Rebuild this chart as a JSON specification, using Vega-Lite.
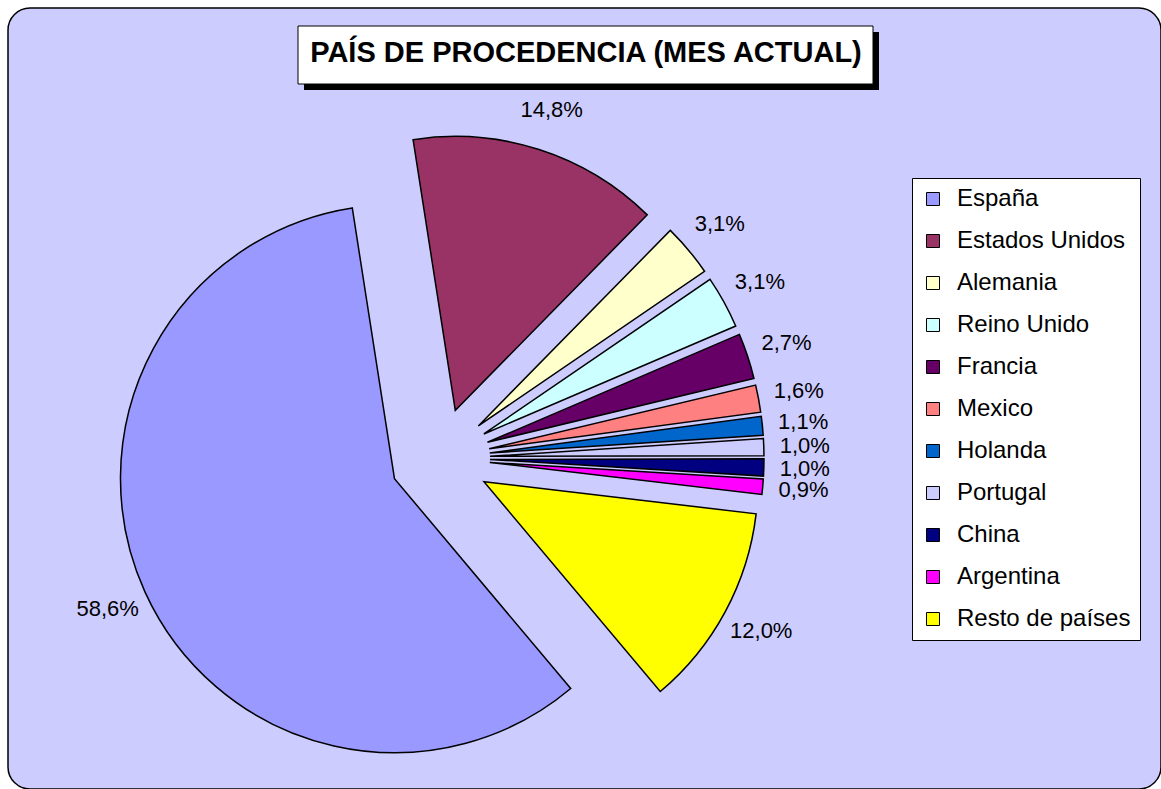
{
  "$schema": "https://vega.github.io/schema/vega-lite/v6.json",
  "width": 1153,
  "height": 781,
  "autosize": "none",
  "padding": {"left": 8, "top": 8, "right": 0, "bottom": 0},
  "background": "white",
  "config": {
    "view": {"fill": "#CCCCFF", "stroke": "black", "strokeWidth": 1.5, "cornerRadius": 22},
    "font": "Liberation Sans"
  },
  "layer": [
    {
      "data": {"values": [{}]},
      "mark": {"type": "rect", "fill": "black"},
      "encoding": {
        "x": {"datum": -2.72, "type": "quantitative", "scale": {"domain": [-8.64, 14.42], "nice": false, "zero": false}, "axis": null},
        "x2": {"datum": 8.78},
        "y": {"datum": -8.52, "type": "quantitative", "scale": {"domain": [-9.0, 6.62], "nice": false, "zero": false, "reverse": true}, "axis": null},
        "y2": {"datum": -7.36}
      }
    },
    {
      "data": {"values": [{}]},
      "mark": {"type": "rect", "fill": "white", "stroke": "black", "strokeWidth": 1},
      "encoding": {
        "x": {"datum": -2.84, "type": "quantitative", "axis": null},
        "x2": {"datum": 8.66},
        "y": {"datum": -8.64, "type": "quantitative", "axis": null},
        "y2": {"datum": -7.48}
      }
    },
    {
      "data": {"values": [{}]},
      "mark": {"type": "text", "font": "Liberation Sans", "fontWeight": "bold", "fontSize": 29, "align": "center", "baseline": "alphabetic", "color": "black"},
      "encoding": {
        "x": {"datum": 2.92, "type": "quantitative", "axis": null},
        "y": {"datum": -7.92, "type": "quantitative", "axis": null},
        "text": {"value": "PAÍS DE PROCEDENCIA (MES ACTUAL)"}
      }
    },
    {
      "data": {"name": "paises"},
      "transform": [
        {"window": [{"op": "sum", "field": "v", "as": "cum"}], "sort": [{"field": "o"}], "frame": [null, 0]},
        {"calculate": "datum.cum - datum.v", "as": "a0"},
        {"calculate": "datum.cum - datum.v / 2", "as": "mid"},
        {"calculate": "2.443 + datum.mid / 99.9 * 2 * PI", "as": "ang"},
        {"calculate": "sin(datum.ang)", "as": "ex"},
        {"calculate": "-cos(datum.ang)", "as": "ey"}
      ],
      "layer": [
        {
          "mark": {"type": "arc", "radius": 274, "stroke": "black", "strokeWidth": 1.5, "strokeJoin": "miter"},
          "encoding": {
            "x": {"field": "ex", "type": "quantitative", "axis": null},
            "y": {"field": "ey", "type": "quantitative", "axis": null},
            "theta": {"field": "a0", "type": "quantitative", "stack": false, "scale": {"domain": [0, 99.9], "range": [2.443, 8.726]}},
            "theta2": {"field": "cum"},
            "color": {
              "field": "pais",
              "type": "nominal",
              "scale": {
                "domain": ["España", "Estados Unidos", "Alemania", "Reino Unido", "Francia", "Mexico", "Holanda", "Portugal", "China", "Argentina", "Resto de países"],
                "range": ["#9999FF", "#993366", "#FFFFCC", "#CCFFFF", "#660066", "#FF8080", "#0066CC", "#CCCCFF", "#000080", "#FF00FF", "#FFFF00"]
              },
              "legend": {
                "title": null,
                "orient": "none",
                "legendX": 904,
                "legendY": 170,
                "fillColor": "white",
                "strokeColor": "black",
                "padding": 9,
                "symbolType": "square",
                "symbolSize": 169,
                "symbolStrokeColor": "black",
                "symbolStrokeWidth": 1,
                "symbolOpacity": 1,
                "labelFont": "Liberation Sans",
                "labelFontSize": 24,
                "labelColor": "black",
                "labelOffset": 12,
                "labelLimit": 400,
                "rowPadding": 18
              }
            }
          }
        },
        {
          "mark": {"type": "text", "radius": 315, "fontSize": 22, "font": "Liberation Sans", "align": "center", "baseline": "middle", "color": "black"},
          "encoding": {
            "x": {"field": "ex", "type": "quantitative", "axis": null},
            "y": {"field": "ey", "type": "quantitative", "axis": null},
            "theta": {"field": "mid", "type": "quantitative", "stack": false, "scale": {"domain": [0, 99.9], "range": [2.443, 8.726]}},
            "text": {"field": "etiqueta"}
          }
        }
      ]
    }
  ],
  "datasets": {
    "paises": [
      {"o": 1, "pais": "España", "v": 58.6, "etiqueta": "58,6%"},
      {"o": 2, "pais": "Estados Unidos", "v": 14.8, "etiqueta": "14,8%"},
      {"o": 3, "pais": "Alemania", "v": 3.1, "etiqueta": "3,1%"},
      {"o": 4, "pais": "Reino Unido", "v": 3.1, "etiqueta": "3,1%"},
      {"o": 5, "pais": "Francia", "v": 2.7, "etiqueta": "2,7%"},
      {"o": 6, "pais": "Mexico", "v": 1.6, "etiqueta": "1,6%"},
      {"o": 7, "pais": "Holanda", "v": 1.1, "etiqueta": "1,1%"},
      {"o": 8, "pais": "Portugal", "v": 1.0, "etiqueta": "1,0%"},
      {"o": 9, "pais": "China", "v": 1.0, "etiqueta": "1,0%"},
      {"o": 10, "pais": "Argentina", "v": 0.9, "etiqueta": "0,9%"},
      {"o": 11, "pais": "Resto de países", "v": 12.0, "etiqueta": "12,0%"}
    ]
  }
}
